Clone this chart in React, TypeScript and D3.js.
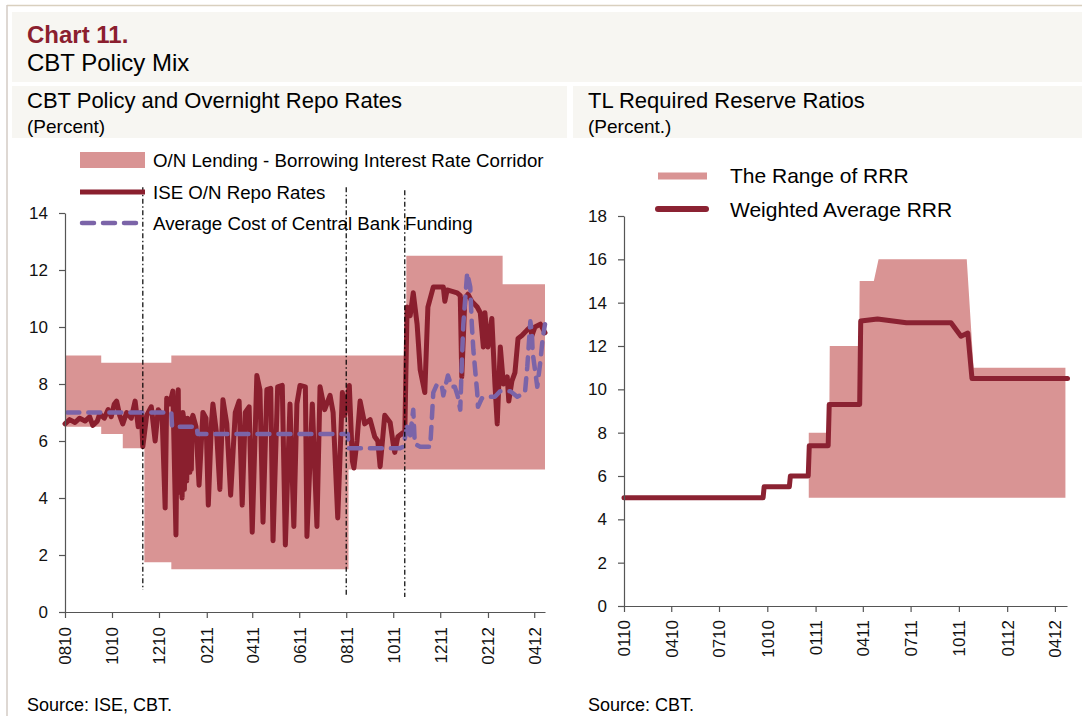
import { useEffect, useRef } from 'react';
import * as d3 from 'd3';

// ---------- left panel: CBT policy and overnight repo rates ----------
const corridorDates = ['2010-08-01', '2010-09-17', '2010-10-15', '2010-11-12', '2010-12-17', '2011-08-04', '2011-10-18', '2012-02-20', '2012-04-15'];
const corridorUpper = [9, 8.75, 8.75, 8.75, 9, 9, 12.5, 11.5, 11.5];
const corridorLower = [6.5, 6.25, 5.75, 1.75, 1.5, 5, 5, 5, 5];

const repoDates = [
  '2010-08-01', '2010-08-07', '2010-08-14', '2010-08-20', '2010-08-27', '2010-09-02', '2010-09-06', '2010-09-12', '2010-09-15', '2010-09-21',
  '2010-09-26', '2010-09-30', '2010-10-04', '2010-10-07', '2010-10-11', '2010-10-15', '2010-10-20', '2010-10-26', '2010-10-31', '2010-11-04',
  '2010-11-08', '2010-11-10', '2010-11-15', '2010-11-21', '2010-11-26', '2010-11-30', '2010-12-05', '2010-12-09', '2010-12-11', '2010-12-15',
  '2010-12-19', '2010-12-23', '2010-12-24', '2010-12-25', '2010-12-26', '2010-12-27', '2010-12-28', '2010-12-29', '2010-12-30', '2010-12-31',
  '2011-01-01', '2011-01-02', '2011-01-03', '2011-01-04', '2011-01-05', '2011-01-06', '2011-01-07', '2011-01-08', '2011-01-09', '2011-01-10',
  '2011-01-11', '2011-01-12', '2011-01-13', '2011-01-14', '2011-01-18', '2011-01-22', '2011-01-27', '2011-01-31', '2011-02-03', '2011-02-07',
  '2011-02-09', '2011-02-14', '2011-02-18', '2011-02-22', '2011-02-27', '2011-03-04', '2011-03-10', '2011-03-15', '2011-03-19', '2011-03-23',
  '2011-03-28', '2011-04-01', '2011-04-07', '2011-04-11', '2011-04-15', '2011-04-20', '2011-04-25', '2011-04-28', '2011-05-04', '2011-05-10',
  '2011-05-14', '2011-05-20', '2011-05-25', '2011-05-29', '2011-06-02', '2011-06-09', '2011-06-11', '2011-06-18', '2011-06-24', '2011-06-28',
  '2011-07-04', '2011-07-11', '2011-07-15', '2011-07-21', '2011-07-27', '2011-07-30', '2011-08-05', '2011-08-09', '2011-08-11', '2011-08-15',
  '2011-08-19', '2011-08-25', '2011-09-01', '2011-09-07', '2011-09-11', '2011-09-14', '2011-09-20', '2011-09-27', '2011-10-01', '2011-10-03',
  '2011-10-07', '2011-10-14', '2011-10-16', '2011-10-19', '2011-10-23', '2011-10-27', '2011-11-01', '2011-11-05', '2011-11-11', '2011-11-15',
  '2011-11-22', '2011-12-05', '2011-12-07', '2011-12-10', '2011-12-23', '2011-12-27', '2011-12-29', '2012-01-02', '2012-01-06', '2012-01-11',
  '2012-01-18', '2012-01-22', '2012-01-26', '2012-01-28', '2012-02-01', '2012-02-06', '2012-02-10', '2012-02-13', '2012-02-17', '2012-02-21',
  '2012-02-26', '2012-02-28', '2012-03-03', '2012-03-07', '2012-03-11', '2012-03-16', '2012-03-23', '2012-03-27', '2012-03-29', '2012-04-02',
  '2012-04-09', '2012-04-15',
];
const repoValues = [
  6.6, 6.75, 6.65, 6.8, 6.7, 6.85, 6.55, 6.7, 6.95, 6.8,
  7.1, 6.85, 7.3, 7.4, 6.9, 6.6, 7.0, 6.8, 7.4, 6.5,
  7.0, 5.8, 6.9, 7.2, 6.0, 7.1, 6.9, 3.65, 7.5, 7.3,
  7.75, 2.7, 5.2, 7.2, 7.8, 4.2, 5.0, 6.9, 4.5, 4.0,
  7.0, 6.8, 4.3, 6.5, 5.5, 4.6, 6.8, 6.6, 5.3, 4.9,
  6.6, 5.0, 6.8, 6.9, 6.5, 4.45, 7.0, 6.8, 3.75, 6.6,
  7.3, 6.2, 4.3, 7.45, 6.6, 4.1, 7.0, 7.4, 3.75, 7.0,
  7.2, 2.8, 8.3, 7.8, 3.15, 7.8, 7.85, 2.5, 7.9, 7.95,
  2.35, 7.3, 3.0, 7.3, 7.95, 7.9, 2.65, 7.3, 3.0, 7.9,
  7.1, 7.6, 7.0, 3.3, 7.7, 6.9, 7.95, 5.3, 5.05, 6.0,
  7.4, 6.6, 6.75, 6.15, 6.0, 5.1, 6.9, 6.65, 5.9, 5.6,
  6.15, 6.3, 6.2, 10.7, 10.4, 11.2, 10.1, 8.5, 7.7, 10.7,
  11.4, 11.4, 10.9, 11.3, 11.2, 11.1, 8.25, 11.0, 11.15, 10.9,
  10.7, 10.5, 9.3, 10.5, 9.3, 10.3, 8.0, 6.6, 9.3, 8.0,
  8.25, 7.4, 8.1, 8.4, 9.6, 9.7, 9.9, 10.0, 9.7, 10.0,
  10.1, 9.8,
];

const fundingDates = [
  '2010-08-04', '2010-12-17', '2010-12-18', '2011-01-19', '2011-01-20', '2011-08-03', '2011-08-04', '2011-10-10',
  '2011-10-14', '2011-10-19', '2011-10-23', '2011-10-27', '2011-10-29', '2011-11-05', '2011-11-18', '2011-11-20',
  '2011-11-22', '2011-11-27', '2011-12-03', '2011-12-05', '2011-12-11', '2011-12-16', '2011-12-20', '2011-12-24',
  '2011-12-27', '2011-12-29', '2011-12-31', '2012-01-05', '2012-01-09', '2012-01-11', '2012-01-13', '2012-01-18',
  '2012-01-19', '2012-01-24', '2012-01-31', '2012-02-10', '2012-02-17', '2012-03-01', '2012-03-10', '2012-03-20',
  '2012-03-23', '2012-03-27', '2012-03-29', '2012-03-30', '2012-04-05', '2012-04-09', '2012-04-12', '2012-04-15',
];
const fundingValues = [
  7.0, 7.0, 6.5, 6.5, 6.25, 6.25, 5.75, 5.75,
  5.8, 6.5, 6.2, 7.1, 5.9, 5.8, 5.8, 6.7,
  7.7, 8.0, 7.95, 7.6, 8.3, 7.9, 7.9, 7.55,
  7.1, 8.7, 10.1, 11.9, 11.4, 10.1, 9.2, 7.7,
  7.2, 7.5, 7.55, 7.55, 7.75, 7.75, 7.55, 7.7,
  8.6, 10.2, 9.8, 9.1, 7.9, 8.8, 9.6, 10.1,
];

// policy change markers (dash-dot verticals)
const markerDates = ['2010-11-10', '2011-08-01', '2011-10-16'];
const markerTop = [14.9, 14.9, 14.8];
const markerBottom = [0.77, 0.6, 0.53];

const leftXTicks = ['0810', '1010', '1210', '0211', '0411', '0611', '0811', '1011', '1211', '0212', '0412'];
const leftYTicks = [0, 2, 4, 6, 8, 10, 12, 14];

// ---------- right panel: TL required reserve ratios ----------
const rrrDates = [
  '2010-01-01', '2010-09-23', '2010-09-25', '2010-11-12', '2010-11-14', '2010-12-18', '2010-12-20', '2011-01-25', '2011-01-27',
  '2011-03-26', '2011-03-28', '2011-04-29', '2011-06-23', '2011-09-16', '2011-10-05', '2011-10-18', '2011-10-26', '2012-04-25',
];
const rrrValues = [5, 5, 5.5, 5.5, 6, 6, 7.4, 7.4, 9.3, 9.3, 13.15, 13.25, 13.07, 13.07, 12.45, 12.6, 10.5, 10.5];

const rangeDates = ['2010-12-19', '2011-01-27', '2011-01-28', '2011-03-25', '2011-03-26', '2011-04-22', '2011-05-01', '2011-10-16', '2011-10-29', '2012-04-21'];
const rangeUpper = [8, 8, 12, 12, 15, 15, 16, 16, 11, 11];
const rangeLower = [5, 5, 5, 5, 5, 5, 5, 5, 5, 5];

const rightXTicks = ['0110', '0410', '0710', '1010', '0111', '0411', '0711', '1011', '0112', '0412'];
const rightYTicks = [0, 2, 4, 6, 8, 10, 12, 14, 16, 18];

const FONT = 'Arial, "Liberation Sans", sans-serif';
const PINK = '#d99494';
const RED = '#8a1f2e';
const PURPLE = '#7b64a8';

const parseDate = d3.timeParse('%Y-%m-%d');
const parseTick = d3.timeParse('%m%y');

interface Pt { date: Date; v: number }
interface Band { date: Date; hi: number; lo: number }

export default function App() {
  const svgRef = useRef<SVGSVGElement>(null);

  useEffect(() => {
    if (!svgRef.current) return;
    const svg = d3.select(svgRef.current);
    svg.selectAll('*').remove();
    svg.attr('font-family', FONT);

    svg.append('rect').attr('width', 1082).attr('height', 716).attr('fill', '#fff');

    // frame and header panels
    svg.append('line').attr('x1', 7).attr('x2', 1082).attr('y1', 5.5).attr('y2', 5.5).attr('stroke', '#d9d0bf').attr('stroke-width', 1.5);
    svg.append('line').attr('x1', 7).attr('x2', 7).attr('y1', 5).attr('y2', 716).attr('stroke', '#d3cbc4').attr('stroke-width', 1.5);
    svg.append('rect').attr('x', 12).attr('y', 12).attr('width', 1070).attr('height', 70).attr('fill', '#f7f6f2');
    svg.append('rect').attr('x', 12).attr('y', 86).attr('width', 555).attr('height', 52).attr('fill', '#f7f6f2');
    svg.append('rect').attr('x', 573).attr('y', 86).attr('width', 509).attr('height', 52).attr('fill', '#f7f6f2');

    svg.append('text').attr('x', 27).attr('y', 43).attr('fill', '#8b1f2f').style('font-size', '24px').style('font-weight', 'bold').text('Chart 11.');
    svg.append('text').attr('x', 27).attr('y', 71).attr('fill', '#000').style('font-size', '24px').text('CBT Policy Mix');
    svg.append('text').attr('x', 27).attr('y', 108).attr('fill', '#000').style('font-size', '22px').text('CBT Policy and Overnight Repo Rates');
    svg.append('text').attr('x', 27).attr('y', 133).attr('fill', '#000').style('font-size', '19px').text('(Percent)');
    svg.append('text').attr('x', 588).attr('y', 108).attr('fill', '#000').style('font-size', '22px').text('TL Required Reserve Ratios');
    svg.append('text').attr('x', 588).attr('y', 133).attr('fill', '#000').style('font-size', '19px').text('(Percent.)');

    svg.append('text').attr('x', 27).attr('y', 711).attr('fill', '#000').style('font-size', '18px').text('Source: ISE, CBT.');
    svg.append('text').attr('x', 588).attr('y', 711).attr('fill', '#000').style('font-size', '18px').text('Source: CBT.');

    const styleAxis = (g: d3.Selection<SVGGElement, unknown, null, undefined>) => {
      g.attr('font-family', FONT).attr('font-size', 17);
      g.select('.domain').attr('stroke', '#555').attr('stroke-width', 1.2);
      g.selectAll('.tick line').attr('stroke', '#555').attr('stroke-width', 1.2);
      g.selectAll('.tick text').attr('fill', '#111');
    };

    // ---------------- left chart ----------------
    const xL = d3.scaleTime()
      .domain([parseDate('2010-08-01')!, parseDate('2012-04-15')!])
      .range([65, 545]);
    const yL = d3.scaleLinear().domain([0, 14]).range([612, 213]);

    const corridor: Band[] = corridorDates.map((d, i) => ({ date: parseDate(d)!, hi: corridorUpper[i], lo: corridorLower[i] }));
    svg.append('path')
      .datum(corridor)
      .attr('fill', PINK)
      .attr('d', d3.area<Band>().x(d => xL(d.date)).y0(d => yL(d.lo)).y1(d => yL(d.hi)).curve(d3.curveStepAfter));

    const repo: Pt[] = repoDates.map((d, i) => ({ date: parseDate(d)!, v: repoValues[i] }));
    svg.append('path')
      .datum(repo)
      .attr('fill', 'none')
      .attr('stroke', RED)
      .attr('stroke-width', 5)
      .attr('stroke-linejoin', 'round')
      .attr('stroke-linecap', 'round')
      .attr('d', d3.line<Pt>().x(d => xL(d.date)).y(d => yL(d.v)));

    const funding: Pt[] = fundingDates.map((d, i) => ({ date: parseDate(d)!, v: fundingValues[i] }));
    svg.append('path')
      .datum(funding)
      .attr('fill', 'none')
      .attr('stroke', PURPLE)
      .attr('stroke-width', 4.5)
      .attr('stroke-dasharray', '12,9')
      .attr('stroke-linecap', 'round')
      .attr('stroke-linejoin', 'round')
      .attr('d', d3.line<Pt>().x(d => xL(d.date)).y(d => yL(d.v)));

    markerDates.forEach((d, i) => {
      const x = xL(parseDate(d)!);
      svg.append('line')
        .attr('x1', x).attr('x2', x)
        .attr('y1', yL(markerTop[i])).attr('y2', yL(markerBottom[i]))
        .attr('stroke', '#000')
        .attr('stroke-width', 1.2)
        .attr('stroke-dasharray', '5,2.5,1.5,2.5');
    });

    const gLy = svg.append('g').attr('transform', 'translate(65,0)')
      .call(d3.axisLeft(yL).tickValues(leftYTicks).tickSize(6).tickSizeOuter(0).tickPadding(11));
    styleAxis(gLy);
    const gLx = svg.append('g').attr('transform', 'translate(0,612)')
      .call(d3.axisBottom(xL).tickValues(leftXTicks.map(t => parseTick(t)!)).tickFormat(d => d3.timeFormat('%m%y')(d as Date)).tickSize(6).tickSizeOuter(0));
    styleAxis(gLx);
    gLx.selectAll('.tick text')
      .attr('transform', 'rotate(-90)')
      .attr('text-anchor', 'end')
      .attr('x', -15)
      .attr('y', 0)
      .attr('dy', '0.35em');

    // left legend
    const legL = svg.append('g').style('font-size', '18.7px');
    legL.append('rect').attr('x', 80).attr('y', 152).attr('width', 65).attr('height', 16).attr('fill', PINK);
    legL.append('text').attr('x', 153).attr('y', 166.5).text('O/N Lending - Borrowing Interest Rate Corridor');
    legL.append('line').attr('x1', 80).attr('x2', 145).attr('y1', 192).attr('y2', 192).attr('stroke', RED).attr('stroke-width', 5);
    legL.append('text').attr('x', 153).attr('y', 198.5).text('ISE O/N Repo Rates');
    legL.append('line').attr('x1', 82).attr('x2', 145).attr('y1', 223).attr('y2', 223).attr('stroke', PURPLE).attr('stroke-width', 4.5)
      .attr('stroke-dasharray', '12,9').attr('stroke-linecap', 'round');
    legL.append('text').attr('x', 153).attr('y', 230).text('Average Cost of Central Bank Funding');

    // ---------------- right chart ----------------
    const xR = d3.scaleTime()
      .domain([parseDate('2010-01-01')!, parseDate('2012-04-24')!])
      .range([624, 1067]);
    const yR = d3.scaleLinear().domain([0, 18]).range([606, 216]);

    const range: Band[] = rangeDates.map((d, i) => ({ date: parseDate(d)!, hi: rangeUpper[i], lo: rangeLower[i] }));
    svg.append('path')
      .datum(range)
      .attr('fill', PINK)
      .attr('d', d3.area<Band>().x(d => xR(d.date)).y0(d => yR(d.lo)).y1(d => yR(d.hi)));

    const rrr: Pt[] = rrrDates.map((d, i) => ({ date: parseDate(d)!, v: rrrValues[i] }));
    svg.append('path')
      .datum(rrr)
      .attr('fill', 'none')
      .attr('stroke', '#8b2232')
      .attr('stroke-width', 5)
      .attr('stroke-linejoin', 'round')
      .attr('stroke-linecap', 'round')
      .attr('d', d3.line<Pt>().x(d => xR(d.date)).y(d => yR(d.v)));

    const gRy = svg.append('g').attr('transform', 'translate(624,0)')
      .call(d3.axisLeft(yR).tickValues(rightYTicks).tickSize(6).tickSizeOuter(0).tickPadding(11));
    styleAxis(gRy);
    const gRx = svg.append('g').attr('transform', 'translate(0,606)')
      .call(d3.axisBottom(xR).tickValues(rightXTicks.map(t => parseTick(t)!)).tickFormat(d => d3.timeFormat('%m%y')(d as Date)).tickSize(6).tickSizeOuter(0));
    styleAxis(gRx);
    gRx.selectAll('.tick text')
      .attr('transform', 'rotate(-90)')
      .attr('text-anchor', 'end')
      .attr('x', -14)
      .attr('y', 0)
      .attr('dy', '0.35em');

    // right legend
    const legR = svg.append('g').style('font-size', '21px');
    legR.append('line').attr('x1', 658).attr('x2', 707).attr('y1', 176).attr('y2', 176).attr('stroke', PINK).attr('stroke-width', 7);
    legR.append('text').attr('x', 730).attr('y', 183).text('The Range of RRR');
    legR.append('line').attr('x1', 658).attr('x2', 706).attr('y1', 209).attr('y2', 209).attr('stroke', '#8b2232').attr('stroke-width', 6)
      .attr('stroke-linecap', 'round');
    legR.append('text').attr('x', 730).attr('y', 217).text('Weighted Average RRR');
  }, []);

  return (
    <div style={{ position: 'absolute', left: 0, top: 0 }}>
      <svg ref={svgRef} width={1082} height={716} style={{ display: 'block' }} />
    </div>
  );
}
